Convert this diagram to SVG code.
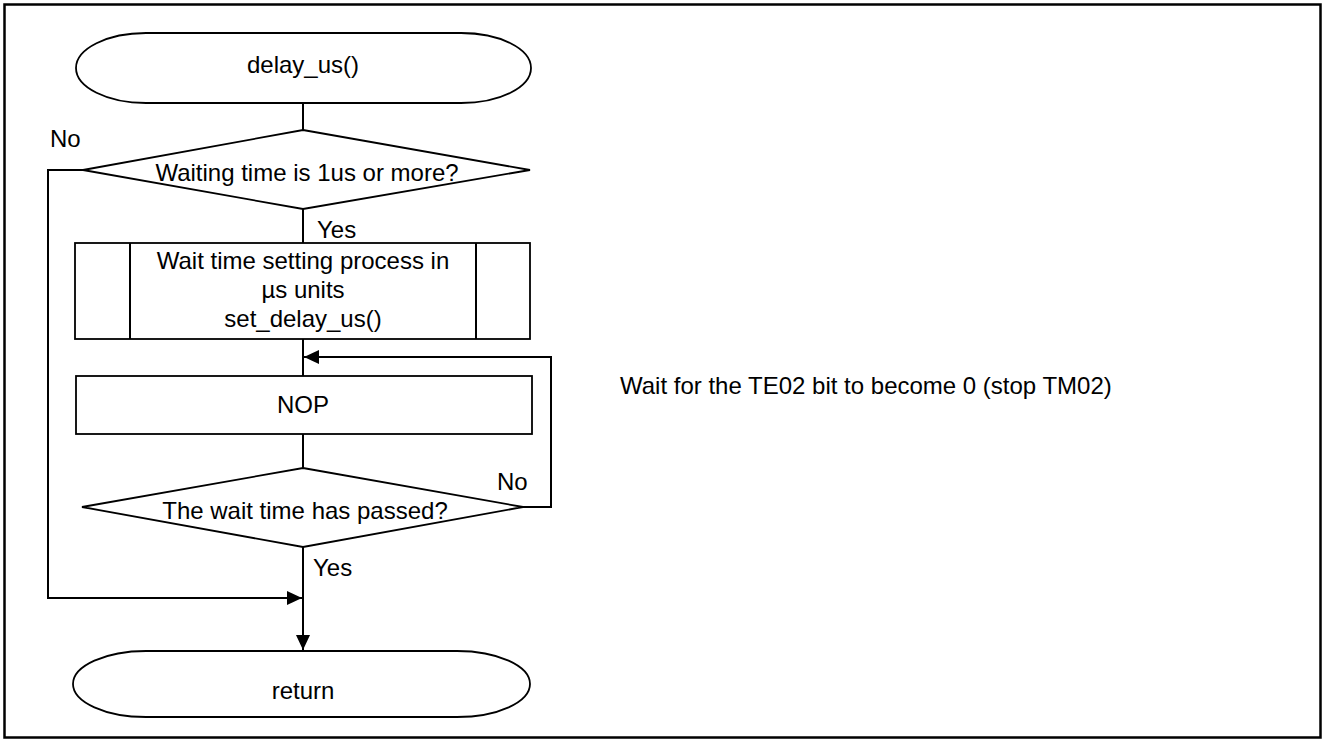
<svg xmlns="http://www.w3.org/2000/svg" width="1326" height="741" viewBox="0 0 1326 741">
<style>
text{font-family:"Liberation Sans",Arial,sans-serif;font-size:24px;fill:#000}
.s{fill:#fff;stroke:#000;stroke-width:1.8}
.c{fill:none;stroke:#000;stroke-width:2}
.m{text-anchor:middle}
</style>
<defs>
<marker id="ah" markerWidth="15" markerHeight="14" refX="15" refY="7" orient="auto" markerUnits="userSpaceOnUse">
<path d="M0,0 L15,7 L0,14 Z" fill="#000"/>
</marker>
</defs>
<rect x="0" y="0" width="1326" height="741" fill="#fff"/>
<rect x="4.5" y="4.5" width="1316" height="733" fill="none" stroke="#000" stroke-width="2.5"/>
<g id="connectors">
<line class="c" x1="303" y1="103" x2="303" y2="130"/>
<line class="c" x1="303" y1="209" x2="303" y2="243"/>
<line class="c" x1="303" y1="339" x2="303" y2="376"/>
<line class="c" x1="303" y1="434" x2="303" y2="468"/>
<line class="c" x1="303" y1="547" x2="303" y2="650" marker-end="url(#ah)"/>
<polyline class="c" points="83,170 48,170 48,598 302,598" marker-end="url(#ah)"/>
<polyline class="c" points="523,507 551,507 551,357 304,357" marker-end="url(#ah)"/>
</g>
<g id="start">
<rect class="s" x="76" y="33" width="455" height="70" rx="70" ry="35" stroke-width="1.3"/>
<text class="m" x="303" y="73">delay_us()</text>
</g>
<g id="dec1">
<polygon class="s" points="303,130 530,170 303,209 83,170"/>
<text class="m" x="307" y="181">Waiting time is 1us or more?</text>
</g>
<text x="50" y="147">No</text>
<text x="317" y="238">Yes</text>
<g id="sub">
<rect class="s" x="75" y="243" width="455" height="96"/>
<line class="c" x1="130" y1="243" x2="130" y2="339" stroke-width="1.8"/>
<line class="c" x1="476" y1="243" x2="476" y2="339" stroke-width="1.8"/>
<text class="m" x="303" y="269">Wait time setting process in</text>
<text class="m" x="303" y="298">µs units</text>
<text class="m" x="303" y="327">set_delay_us()</text>
</g>
<g id="nop">
<rect class="s" x="76" y="376" width="456" height="58"/>
<text class="m" x="303" y="413">NOP</text>
</g>
<g id="dec2">
<polygon class="s" points="303,468 523,507 303,547 82,507"/>
<text class="m" x="305" y="519">The wait time has passed?</text>
</g>
<text x="497" y="490">No</text>
<text x="313" y="576">Yes</text>
<g id="end">
<rect class="s" x="73" y="651" width="457" height="66" rx="73" ry="33"/>
<text class="m" x="303" y="699">return</text>
</g>
<text x="620" y="394">Wait for the TE02 bit to become 0 (stop TM02)</text>
</svg>
